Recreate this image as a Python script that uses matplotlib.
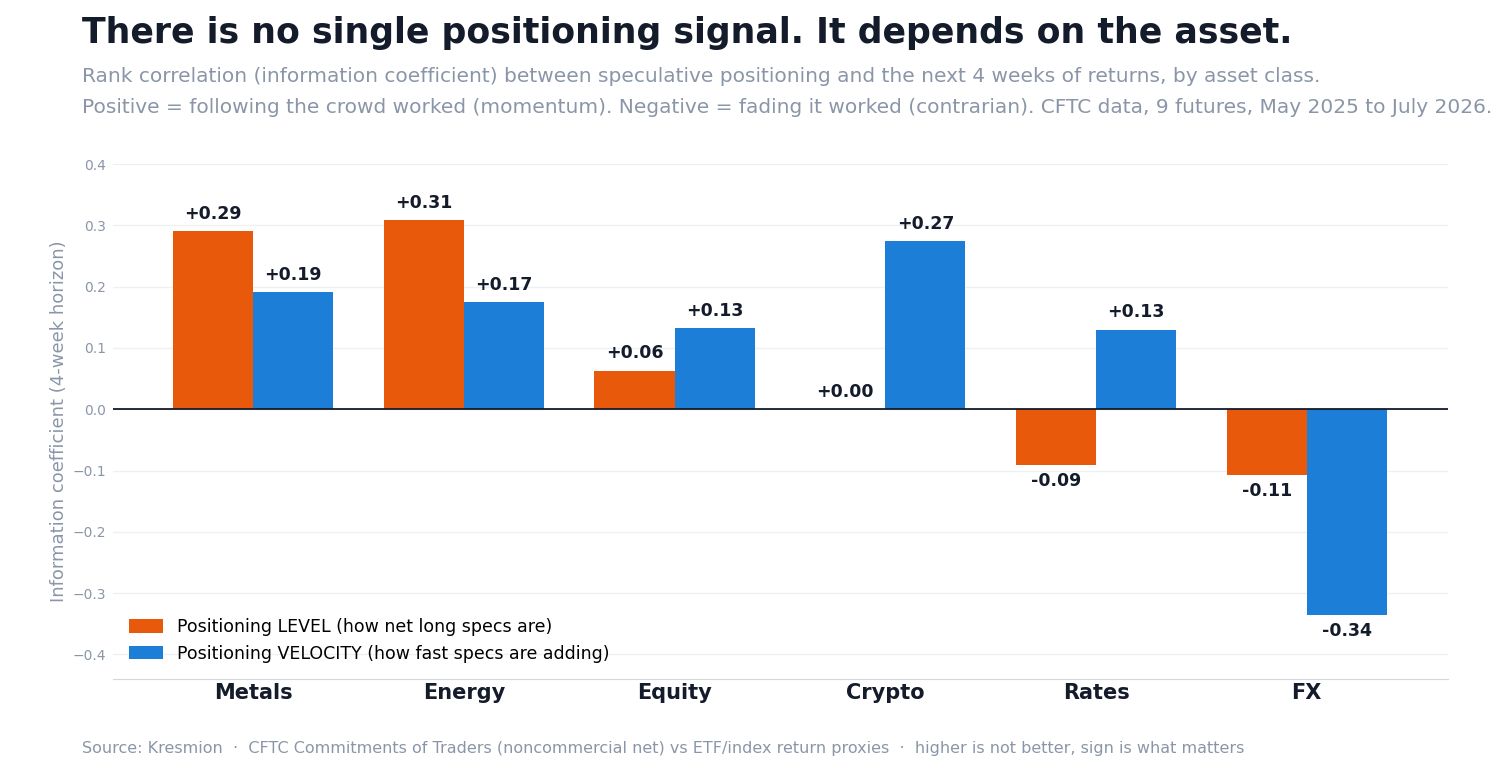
import matplotlib
matplotlib.use("Agg")
import matplotlib.pyplot as plt
import numpy as np

categories = ["Metals", "Energy", "Equity", "Crypto", "Rates", "FX"]
level_ic = [0.290, 0.308, 0.063, 0.000, -0.091, -0.108]
velocity_ic = [0.191, 0.175, 0.132, 0.274, 0.130, -0.336]
level_name = "Positioning LEVEL (how net long specs are)"
velocity_name = "Positioning VELOCITY (how fast specs are adding)"
yticks = [-0.4, -0.3, -0.2, -0.1, 0.0, 0.1, 0.2, 0.3, 0.4]

ORANGE = "#E8590C"
BLUE = "#1C7ED6"
DARK = "#141B2A"
GREY = "#8A96A8"

plt.rcParams['font.family'] = ['DejaVu Sans']
fig = plt.figure(figsize=(15, 7.8), dpi=100)
ax = fig.add_axes([0.0753, 0.1295, 0.89, 0.6602])

x = np.arange(len(categories))
w = 0.38
b1 = ax.bar(x - w / 2, level_ic, w, color=ORANGE, label=level_name, zorder=3)
b2 = ax.bar(x + w / 2, velocity_ic, w, color=BLUE, label=velocity_name, zorder=3)

for bars, vals in ((b1, level_ic), (b2, velocity_ic)):
    for rect, v in zip(bars, vals):
        cx = rect.get_x() + rect.get_width() / 2
        txt = f"{v:+.2f}" if v >= 0 else f"{v:.2f}"
        if v >= 0:
            ax.annotate(txt, (cx, v), xytext=(0, 6), textcoords="offset points",
                        ha="center", va="bottom", fontsize=12.5, fontweight="bold", color=DARK, zorder=4)
        else:
            ax.annotate(txt, (cx, v), xytext=(0, -5), textcoords="offset points",
                        ha="center", va="top", fontsize=12.5, fontweight="bold", color=DARK, zorder=4)

ax.axhline(0, color=DARK, lw=1.3, zorder=4)
ax.set_ylim(-0.44, 0.40)
ax.set_xlim(-0.665, 5.67)
ax.set_yticks(yticks)
ax.yaxis.grid(True, color="#EEF0F2", lw=1, zorder=0)
ax.set_axisbelow(True)
ax.set_xticks(x)
ax.set_xticklabels(categories, fontsize=15, fontweight="bold", color=DARK)
ax.tick_params(axis="x", length=0, pad=3)
ax.tick_params(axis="y", length=0, labelsize=10, labelcolor=GREY, pad=5)
for s in ("top", "right", "left"):
    ax.spines[s].set_visible(False)
ax.spines["bottom"].set_color("#D5D9DE")
ax.set_ylabel("Information coefficient (4-week horizon)", fontsize=13, color=GREY, labelpad=3)

leg = ax.legend(loc="lower left", bbox_to_anchor=(0.0, 0.001), frameon=False, fontsize=12.5,
                handlelength=2.0, handleheight=0.8, labelspacing=0.5)

fig.text(0.0547, 0.958, "There is no single positioning signal. It depends on the asset.",
         fontsize=25, fontweight="bold", color=DARK, va="center", ha="left")
fig.text(0.0547, 0.902, "Rank correlation (information coefficient) between speculative positioning and the next 4 weeks of returns, by asset class.",
         fontsize=14.5, color=GREY, va="center", ha="left")
fig.text(0.0547, 0.862, "Positive = following the crowd worked (momentum). Negative = fading it worked (contrarian). CFTC data, 9 futures, May 2025 to July 2026.",
         fontsize=14.5, color=GREY, va="center", ha="left")
fig.text(0.0547, 0.041, "Source: Kresmion  \u00b7  CFTC Commitments of Traders (noncommercial net) vs ETF/index return proxies  \u00b7  higher is not better, sign is what matters",
         fontsize=11.5, color=GREY, va="center", ha="left")

fig.savefig("out.png", dpi=100, facecolor="white")
